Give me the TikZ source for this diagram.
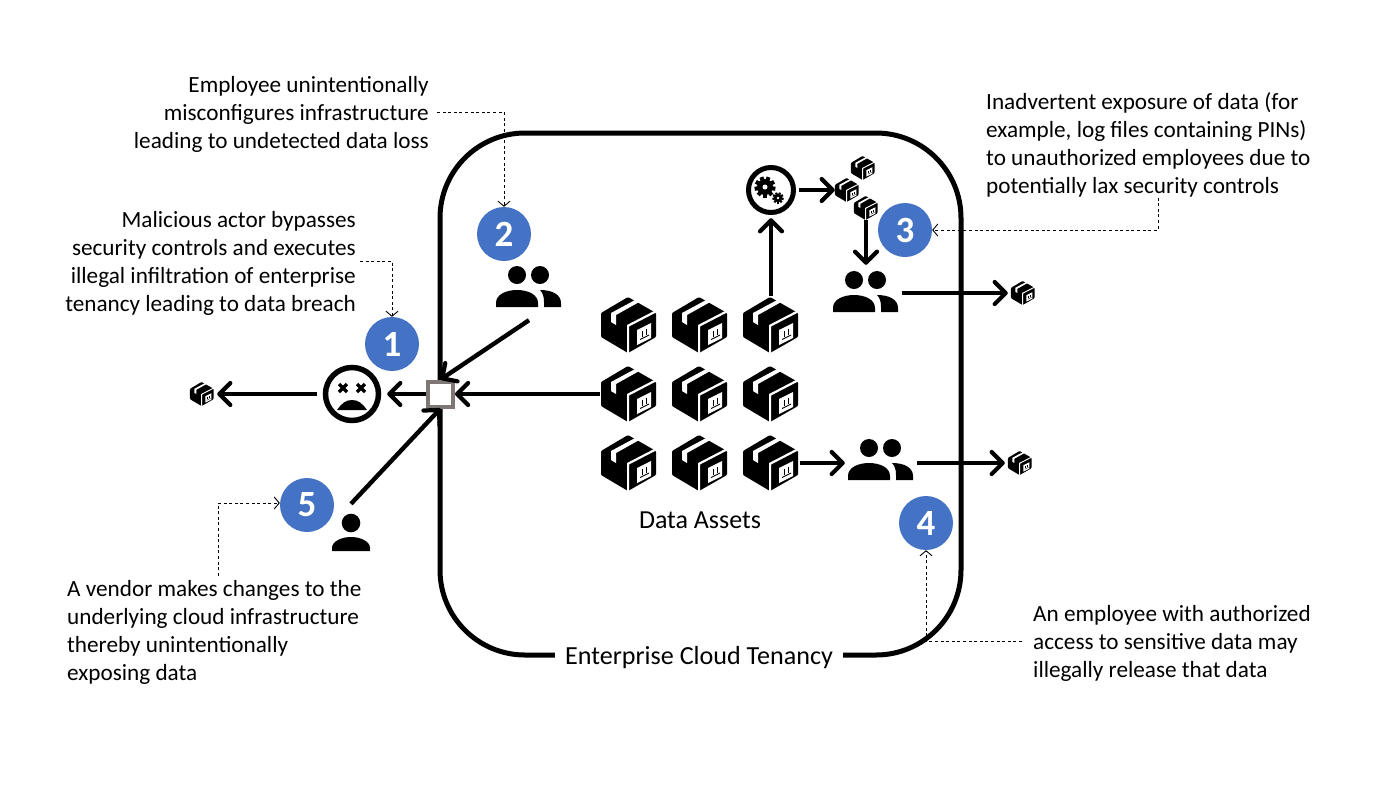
\documentclass[tikz,border=0pt]{standalone}
\usepackage{fontspec}
\setmainfont{Carlito}
\usetikzlibrary{arrows.meta, positioning}
\definecolor{badgeblue}{HTML}{4472C4}
\definecolor{gategray}{HTML}{7F7676}
\tikzset{
  flow/.style={line width=4.4pt, -{Straight Barb[length=11pt,width=22pt,line width=4.2pt,round]}},
  leader/.style={line width=0.9pt, dash pattern=on 3pt off 2.6pt, -{Straight Barb[length=5pt,width=12pt,line width=0.9pt]}},
  badge/.style={circle, fill=badgeblue, text=white, minimum size=54pt, inner sep=0, font=\fontsize{37}{37}\selectfont\bfseries},
  note/.style={inner sep=0, font=\fontsize{23.2}{28}\selectfont},
  spot/.style={inner sep=0, minimum width=#1, minimum height=#1},
  pics/databox/.style={code={
    \fill[rounded corners=1pt] (-1,-28) -- (27,-12) -- (27,12) -- (-1,28) -- (-28,12) -- (-28,-12) -- cycle;
    \fill[white] (-2,0) -- (0,-1) -- (27,-15) -- (27,-12.5) -- (0,1.5) -- (0,28) -- (-2,28) -- cycle;
    \fill[white] (-18,-12) -- (8,-26) -- (12,-24) -- (-13,-10) -- (-13,0) -- (-18,-3) -- cycle;
    \fill[white] (8,5) -- (22,-2) -- (22,13) -- (8,20) -- cycle;
    \fill (11,14) -- (20,9.5) -- (20,10.5) -- (11,15) -- cycle;
    \fill (12.5,6) rectangle (13.5,12);
    \fill (17,4) rectangle (18,10);
  }},
  pics/peoplepair/.style={code={
    \fill (-12,-15) circle (9) (11,-15) circle (9);
    \fill (-33,17) -- (-33,13) .. controls (-33,4) and (-22,0) .. (-12,0) .. controls (-2,0) and (9,4) .. (9,13) -- (9,17) -- cycle;
    \fill (11,0) .. controls (24,0) and (32,5) .. (32,13) -- (32,17) -- (15,17) -- (15,12) .. controls (15,7) and (14,3) .. (11,0) -- cycle;
  }},
  pics/gearwheel/.style={code={
    \fill circle (0.8);
    \foreach \a in {0,40,...,320} \fill[rotate=\a] (-0.2,0.7) rectangle (0.2,1.05);
    \fill[white] circle (0.25);
  }},
}
\begin{document}
\begin{tikzpicture}[x=1pt, y=-1pt]
    \useasboundingbox (0,0) rectangle (1400,788);
    % tenancy outline
    \draw[line width=5pt, rounded corners=85pt] (440,133) rectangle (961,655);
    \node[fill=white, inner xsep=10pt, inner ysep=2pt, font=\fontsize{26.1}{28}\selectfont] (tenancy) at (699,658) {Enterprise Cloud Tenancy};
    % data assets
    \foreach \name/\cx/\cy in {boxNW/629/325, boxN/700/325, boxNE/771/325, boxW/629/394, boxC/700/394, boxE/771/394, boxSW/629/463, boxS/700/463, boxSE/771/463} {
      \node[spot=58pt] (\name) at (\cx,\cy) {};
      \pic at (\name) {databox};
    }
    \node[font=\fontsize{26}{28}\selectfont, inner sep=0] (assets) at (700,520) {Data Assets};
    % small boxes
    \foreach \name/\cx/\cy/\sz in {leakA/202/394/30pt, leakB/1023/293/30pt, leakC/1020/463/30pt, procA/863/168/24pt, procB/847/190/24pt, procC/866/208/24pt} {
      \node[spot=\sz] (\name) at (\cx,\cy) {};
      \pic[scale=0.43] at (\name) {databox};
    }
    % actors
    \foreach \name/\cx/\cy in {peopleTwo/529/290, peopleThree/866/295, peopleFour/881/463} {
      \node[spot=60pt, minimum width=72pt] (\name) at (\cx,\cy) {};
      \pic at (\name) {peoplepair};
    }
    \node[spot=62pt] (vendor) at (351,535) {};
    \fill (vendor) ++(0,-12) circle (9.3);
    \fill (332,551) -- (332,548) .. controls (332,541) and (342,537) .. (351,537) .. controls (360,537) and (370,541) .. (370,548) -- (370,551) -- cycle;
    % attacker
    \node[circle, inner sep=0, minimum size=70pt] (attacker) at (352,394) {};
    \draw[line width=5.5pt] (attacker) circle (26.5);
    \foreach \ex in {343,361} \draw[line width=3.4pt] (\ex-4,384) -- (\ex+4,392) (\ex-4,392) -- (\ex+4,384);
    \fill (337,410) .. controls (342,403) and (346,400) .. (352,400) .. controls (358,400) and (362,403) .. (367,410) -- cycle;
    % processing
    \node[circle, inner sep=0, minimum size=56pt] (gears) at (771,190) {};
    \draw[line width=5pt] (gears) circle (22.5);
    \pic[scale=10] at (765,187) {gearwheel};
    \pic[scale=5.4] at (778,198) {gearwheel};
    % gateway
    \node[draw=gategray, fill=white, line width=4pt, minimum size=25pt, inner sep=0] (gate) at (440.5,394) {};
    % flows
    \draw[flow] (boxW) -- (gate);
    \draw[flow] (gate) -- (attacker);
    \draw[flow] (attacker) -- (leakA);
    \draw[flow] (peopleTwo.south) -- (gate.north);
    \draw[flow] (vendor.north) -- (gate.south);
    \draw[flow] (boxNE.north) -- (gears.south);
    \draw[flow] (gears) -- (procB);
    \draw[flow] (procC.south) -- (peopleThree.north);
    \draw[flow] (peopleThree.east |- leakB) -- (leakB);
    \draw[flow] (boxSE) -- (peopleFour);
    \draw[flow] (peopleFour) -- (leakC);
    % badges
    \node[badge] (badgeOne) at (392,344) {1};
    \node[badge] (badgeTwo) at (504,234) {2};
    \node[badge] (badgeThree) at (905,230) {3};
    \node[badge] (badgeFour) at (926,523) {4};
    \node[badge] (badgeFive) at (307,505) {5};
    % notes
    \node[note, anchor=east, align=right] (noteOne) at (356,263) {Malicious actor bypasses\\security controls and executes\\illegal infiltration of enterprise\\tenancy leading to data breach};
    \node[note, anchor=east, align=right] (noteTwo) at (429,114) {Employee unintentionally\\misconfigures infrastructure\\leading to undetected data loss};
    \node[note, anchor=west, align=left] (noteThree) at (986,145) {Inadvertent exposure of data (for\\example, log files containing PINs)\\to unauthorized employees due to\\potentially lax security controls};
    \node[note, anchor=west, align=left] (noteFour) at (1033,643) {An employee with authorized\\access to sensitive data may\\illegally release that data};
    \node[note, anchor=west, align=left] (noteFive) at (67,632) {A vendor makes changes to the\\underlying cloud infrastructure\\thereby unintentionally\\exposing data};
    % leaders
    \coordinate (bendThree) at (1158,230);
    \coordinate (bendFive) at (218,503);
    \draw[leader] ([xshift=4pt,yshift=2pt]noteOne.east) -| (badgeOne.north);
    \draw[leader] ([xshift=8pt,yshift=2pt]noteTwo.east) -| (badgeTwo.north);
    \draw[leader] (noteThree.south -| bendThree) -- (bendThree) -- (badgeThree.east);
    \draw[leader] ([xshift=-11pt,yshift=2pt]noteFour.west) -| (badgeFour.south);
    \draw[leader] ([yshift=4pt]noteFive.north -| bendFive) -- (bendFive) -- (badgeFive.west |- bendFive);
\end{tikzpicture}
\end{document}
